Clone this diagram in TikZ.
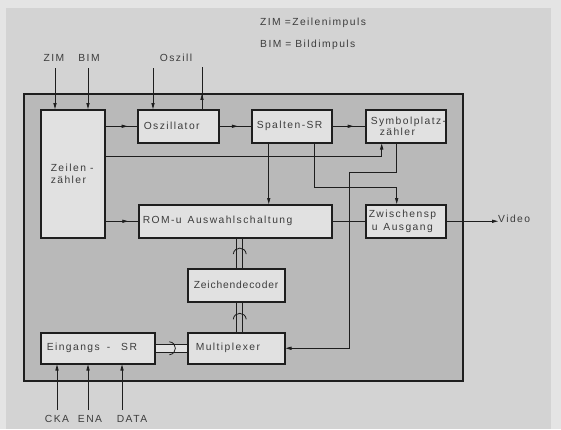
\documentclass[tikz,border=0pt]{standalone}
\usepackage{fontspec}
\setmainfont{Liberation Sans}[LetterSpace=14]
\usetikzlibrary{arrows.meta,decorations.markings,calc}
\definecolor{pagebg}{HTML}{D3D3D3}
\definecolor{marginbg}{HTML}{E4E4E4}
\definecolor{framefill}{HTML}{B9B9B9}
\definecolor{boxfill}{HTML}{E1E1E1}
\definecolor{ink}{HTML}{1E1E1E}
\definecolor{txt}{HTML}{3C3C3C}
\newcommand{\gp}[1]{\hspace*{#1pt}}
\tikzset{
  blk/.style={draw=ink, fill=boxfill, line width=1.5pt, anchor=north west,
    inner ysep=0pt, align=left, text=txt, font=\fontsize{10.3}{11.5}\selectfont},
  lbl/.style={text=txt, inner sep=0pt, font=\fontsize{10.3}{12}\selectfont},
  con/.style={draw=ink, line width=0.8pt},
  arr/.style={con, -{Triangle[length=6pt,width=3.2pt]}},
  midarr/.style={con, postaction={decorate}, decoration={markings,
    mark=at position #1 with {\arrow{Triangle[length=6pt,width=3.2pt]}}}},
  vbus/.style={draw=ink, line width=0.9pt, double=framefill, double distance=4.8pt},
  hbus/.style={draw=ink, line width=0.9pt, double=boxfill, double distance=7.1pt},
  chev/.style={postaction={decorate}, decoration={markings,
    mark=at position #1 with {\draw[ink, line width=0.8pt]
      (-5pt,-6.5pt) .. controls (-1pt,-6pt) and (1pt,-3pt) .. (1pt,0pt)
      .. controls (1pt,3pt) and (-1pt,6pt) .. (-5pt,6.5pt);}}},
}
\begin{document}
\begin{tikzpicture}[x=1pt, y=-1pt]
\useasboundingbox (0,0) rectangle (561,429);
\fill[marginbg] (0,0) rectangle (561,429);
\fill[pagebg] (6,8) rectangle (551,429);

% legend
\node[lbl, anchor=west] (leg1) at (260,23) {ZIM\gp{4}=Zeilenimpuls};
\node[lbl, anchor=west] (leg2) at (260,45) {BIM\gp{4}=\gp{4}Bildimpuls};

% outer frame
\node[draw=ink, fill=framefill, line width=1.5pt, anchor=north west, inner sep=0pt,
      minimum width=439pt, minimum height=287pt] (fr) at (23,93) {};

% blocks
\node[blk, inner xsep=10pt, text width=44pt, minimum height=128pt] (zz) at (40,109) {\mbox{Zeilen\gp{4}-}\\zähler};
\node[blk, inner xsep=6pt, text width=69pt, minimum height=33pt] (osz) at (137,109) {Oszillator};
\node[blk, inner xsep=5pt, text width=70pt, minimum height=33pt] (sym) at (365,109) {\mbox{Symbolplatz-}\\\gp{9}zähler};
\node[blk, inner xsep=5pt, text width=70pt, minimum height=33pt] (sp) at (251,109) {\mbox{Spalten-SR}};
\node[blk, inner xsep=4pt, text width=185pt, minimum height=33pt] (rom) at (138,204) {\mbox{ROM-u\gp{6}Auswahlschaltung}};
\node[blk, inner xsep=3pt, text width=74pt, minimum height=33pt, font=\fontsize{10.3}{12.5}\selectfont] (zw) at (365,204) {Zwischensp\\\gp{3}u\gp{6}Ausgang};
\node[blk, inner xsep=6pt, text width=85pt, minimum height=33pt] (zd) at (187,268) {\addfontfeatures{LetterSpace=8}Zeichendecoder};
\node[blk, inner xsep=8pt, text width=81pt, minimum height=31pt] (mux) at (187,332) {Multiplexer};
\node[blk, inner xsep=6pt, text width=102pt, minimum height=31pt] (ein) at (40,332) {\mbox{Eingangs\gp{7}-\gp{11}SR}};

% top inputs
\node[lbl] (zimL) at (54,58) {ZIM};
\node[lbl] (bimL) at (89,58) {BIM};
\node[lbl] (oszL) at (176,58) {Oszill};
\coordinate (zimIn) at (55,68);
\coordinate (bimIn) at (88,68);
\coordinate (oscIn) at (153,68);
\coordinate (oscOut) at (202,67);
\draw[arr] (zimIn) -- (zimIn |- zz.north);
\draw[arr] (bimIn) -- (bimIn |- zz.north);
\draw[arr] (oscIn) -- (oscIn |- osz.north);
\draw[midarr=0.36] (oscOut |- osz.north) -- (oscOut);

% horizontal chain
\draw[midarr=0.7] (zz.east |- osz) -- (osz.west);
\draw[midarr=0.58] (osz.east) -- (sp.west);
\draw[midarr=0.65] (sp.east) -- (sym.west);

% Zeilenzaehler -> Symbolplatzzaehler
\coordinate (c1) at (381.7,156);
\draw[arr] (zz.east |- c1) -- (c1) -- (c1 |- sym.south);

% Spalten-SR -> ROM
\draw[arr] ([xshift=-23pt]sp.south) -- ([xshift=-23pt]sp.south |- rom.north);
% Spalten-SR -> Zwischensp
\coordinate (c2) at (396.7,187);
\draw[arr] ([xshift=23pt]sp.south) |- (c2) -- (c2 |- zw.north);
% Symbolplatzzaehler -> Multiplexer
\coordinate (c3) at (396.7,172);
\coordinate (c4) at (349,172);
\draw[arr] (c3 |- sym.south) -- (c3) -- (c4) -- (c4 |- mux.east) -- (mux.east);

% Zeilenzaehler -> ROM, ROM -> Zwischensp, Video
\draw[midarr=0.7] (zz.east |- rom) -- (rom.west);
\draw[con] (rom.east) -- (zw.west);
\node[lbl, anchor=west] (vid) at (498,219) {Video};
\draw[arr] (zw.east) -- (zw.east -| vid.west);

% buses
\draw[vbus] ([xshift=3.5pt]zd.north) -- ([xshift=3.5pt]zd.north |- rom.south);
\path[chev=0.64] ([xshift=3.5pt]zd.north) -- ([xshift=3.5pt]zd.north |- rom.south);
\draw[vbus] ([xshift=3.5pt]mux.north) -- ([xshift=3.5pt]mux.north |- zd.south);
\path[chev=0.6] ([xshift=3.5pt]mux.north) -- ([xshift=3.5pt]mux.north |- zd.south);
\draw[hbus] (ein.east) -- (mux.west);
\path[chev=0.6] (ein.east) -- (mux.west);

% bottom inputs
\coordinate (ckaIn) at (57,410);
\coordinate (enaIn) at (88,410);
\coordinate (dataIn) at (122,410);
\draw[arr] (ckaIn) -- (ckaIn |- ein.south);
\draw[arr] (enaIn) -- (enaIn |- ein.south);
\draw[arr] (dataIn) -- (dataIn |- ein.south);
\node[lbl] (ckaL) at (57,419) {CKA};
\node[lbl] (enaL) at (90,419) {ENA};
\node[lbl] (dataL) at (132,419) {DATA};
\end{tikzpicture}
\end{document}
